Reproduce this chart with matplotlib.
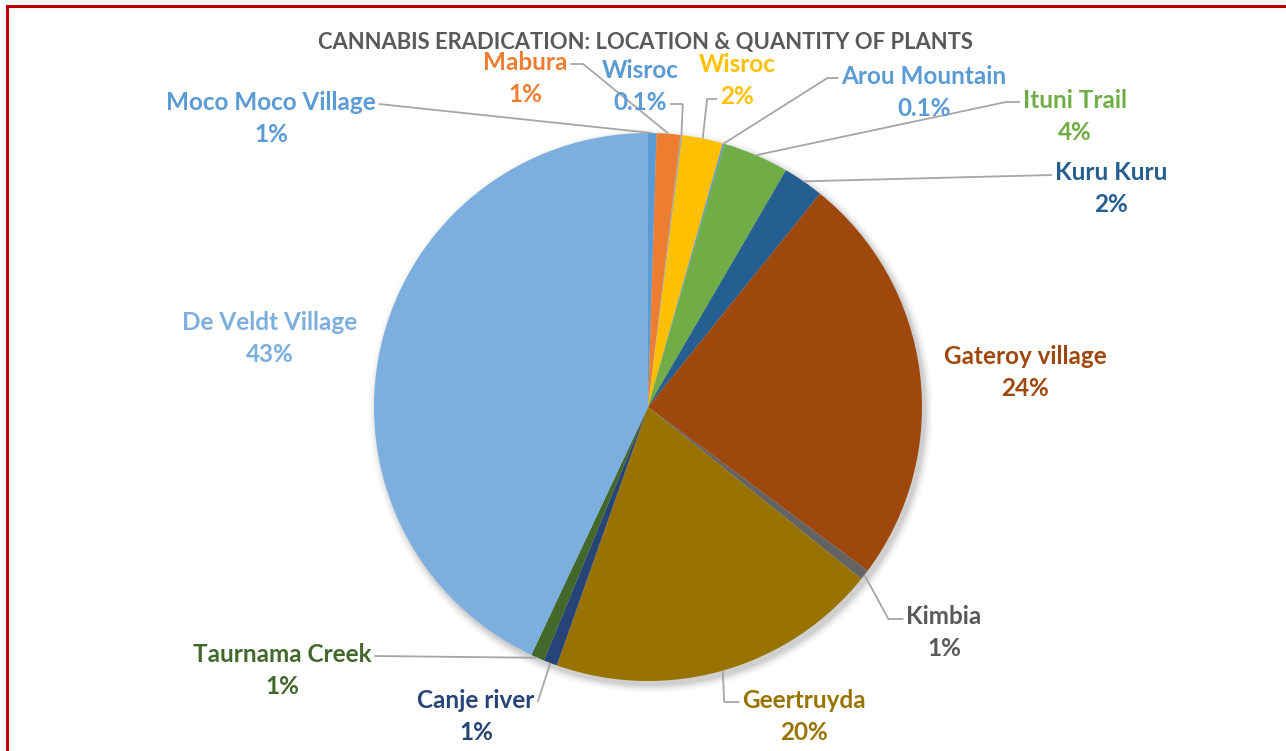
import matplotlib
matplotlib.use("Agg")
import matplotlib.pyplot as plt
import numpy as np

W, H = 1286, 751

title = "CANNABIS ERADICATION: LOCATION & QUANTITY OF PLANTS"

locations = ["Moco Moco Village", "Mabura", "Wisroc", "Wisroc", "Arou Mountain",
             "Ituni Trail", "Kuru Kuru", "Gateroy village", "Kimbia", "Geertruyda",
             "Canje river", "Taurnama Creek", "De Veldt Village"]
shares = [0.5, 1.4, 0.1, 2.4, 0.1, 3.9, 2.4, 24.4, 0.6, 19.6, 0.8, 0.8, 43.0]
pct_labels = ["1%", "1%", "0.1%", "2%", "0.1%", "4%", "2%", "24%", "1%", "20%",
              "1%", "1%", "43%"]

slice_colors = ["#5B9BD5", "#ED7D31", "#A5A5A5", "#FFC000", "#5B9BD5", "#70AD47",
                "#255E91", "#9E480E", "#636363", "#997300", "#264478", "#43682B",
                "#7CAFDD"]
label_colors = ["#5B9BD5", "#ED7D31", "#5B9BD5", "#FFC000", "#5B9BD5", "#70AD47",
                "#255E91", "#9E480E", "#595959", "#997300", "#264478", "#43682B",
                "#7CAFDD"]

# layout: label center positions (pixels, from top-left)
label_pos = [(271, 102), (525, 62), (640, 70), (737, 65), (924, 76), (1075, 100),
             (1111, 173), (1025, 356), (944, 617), (804, 700), (476, 700),
             (282, 654), (270, 322)]
# leader: (which text line 0=name 1=pct, side of text, elbow length px) or None
leaders = [(0, "R", 0), (0, "R", 13), (1, "R", 13), (1, "L", 10), (0, "L", 11),
           (0, "L", 14), (0, "L", 0), None, (0, "L", 15), (0, "L", 15),
           (0, "R", 0), (0, "R", 0), None]

cx, cy, R = 648, 407, 274

fig = plt.figure(figsize=(W / 100, H / 100), dpi=100)
ax = fig.add_axes([0, 0, 1, 1])
ax.set_xlim(0, W)
ax.set_ylim(0, H)
ax.set_aspect("equal")
ax.axis("off")

def py(y):
    return H - y

# soft shadow
for i, a in enumerate(np.linspace(0.05, 0.012, 6)):
    circ = plt.Circle((cx + 3, py(cy) - 4), R + 1 + i * 1.5, color="black",
                      alpha=a, lw=0, zorder=0)
    ax.add_patch(circ)

wedges, _ = ax.pie(shares, colors=slice_colors, startangle=90, counterclock=False,
                   center=(cx, py(cy)), radius=R, frame=True,
                   wedgeprops=dict(linewidth=0))
for w in wedges:
    w.set_zorder(2)
ax.set_xlim(0, W)
ax.set_ylim(0, H)
ax.axis("off")

fs = 17.5
texts = []
for i, w in enumerate(wedges):
    lx, ly = label_pos[i]
    t0 = ax.text(lx, py(ly), locations[i], ha="center", va="center", fontsize=fs,
                 fontweight="bold", color=label_colors[i], family="Lato", zorder=5)
    t1 = ax.text(lx, py(ly + 32), pct_labels[i], ha="center", va="center", fontsize=fs,
                 fontweight="bold", color=label_colors[i], family="Lato", zorder=5)
    texts.append((t0, t1))

fig.canvas.draw()
renderer = fig.canvas.get_renderer()
inv = ax.transData.inverted()

for i, w in enumerate(wedges):
    ld = leaders[i]
    if ld is None:
        continue
    line, side, elbow = ld
    t = texts[i][line]
    bb = t.get_window_extent(renderer)
    (x0, y0), (x1, y1) = inv.transform([[bb.x0, bb.y0], [bb.x1, bb.y1]])
    ymid = (y0 + y1) / 2 - 2
    if side == "R":
        sx = x1 + 3
        ex_ = sx + elbow
    else:
        sx = x0 - 3
        ex_ = sx - elbow
    theta = np.deg2rad((w.theta1 + w.theta2) / 2)
    ax_ = cx + R * np.cos(theta)
    ay_ = py(cy) + R * np.sin(theta)
    ax.plot([sx, ex_, ax_], [ymid, ymid, ay_], color="#A6A6A6", lw=1.3, zorder=4,
            solid_capstyle="butt")

ax.text(645, py(42), title, ha="center", va="center", fontsize=15.8,
        fontweight="bold", color="#595959", family="Lato")

# red frame
ax.plot([6.5, W], [py(6), py(6)], color="#C00000", lw=2.2, zorder=6, clip_on=False)
ax.plot([6.5, 6.5], [py(6), 0], color="#C00000", lw=2.2, zorder=6, clip_on=False)

fig.savefig("out.png", dpi=100)
